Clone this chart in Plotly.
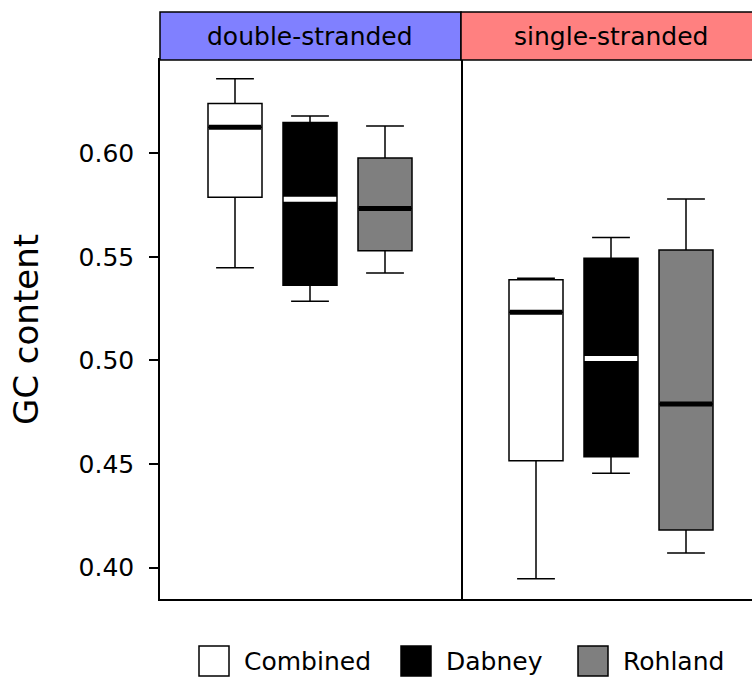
import plotly.graph_objects as go

# ---- data ----
panels = ["double-stranded", "single-stranded"]
groups = ["Combined", "Dabney", "Rohland"]
fills = ["#FFFFFF", "#000000", "#7F7F7F"]
median_colors = ["#000000", "#FFFFFF", "#000000"]

# per panel, per group
lower_whisker = [[0.5448, 0.5286, 0.5422], [0.3947, 0.4456, 0.4071]]
q1_vals       = [[0.5788, 0.5363, 0.5530], [0.4516, 0.4536, 0.4182]]
medians       = [[0.6125, 0.5778, 0.5733], [0.5233, 0.5009, 0.4790]]
q3_vals       = [[0.6240, 0.6148, 0.5977], [0.5389, 0.5493, 0.5533]]
upper_whisker = [[0.6360, 0.6180, 0.6132], [0.5397, 0.5593, 0.5779]]

y_ticks = [0.40, 0.45, 0.50, 0.55, 0.60]
y_title = "GC content"

W, H = 752, 680
ML, MR, MT, MB = 160, 0, 60, 81
plot_w = W - ML - MR
plot_h = H - MT - MB
split = 301 / plot_w
px_per_unit = 75.0
strip_h = 48 / plot_h
box_w = 0.72
FS = 25

fig = go.Figure()
axes = [("x", "y"), ("x2", "y2")]
for p in range(2):
    xa, ya = axes[p]
    for g in range(3):
        pos = g + 1
        fig.add_trace(go.Box(
            x=[pos], q1=[q1_vals[p][g]], median=[medians[p][g]], q3=[q3_vals[p][g]],
            lowerfence=[lower_whisker[p][g]], upperfence=[upper_whisker[p][g]],
            fillcolor=fills[g], line=dict(color="#000000", width=1.5),
            width=box_w, whiskerwidth=0.7, boxpoints=False, name=groups[g],
            showlegend=False, hoverinfo="skip", xaxis=xa, yaxis=ya,
        ))
        fig.add_trace(go.Scatter(
            x=[pos - box_w / 2 + 0.01, pos + box_w / 2 - 0.01],
            y=[medians[p][g], medians[p][g]], mode="lines",
            line=dict(color=median_colors[g], width=5),
            showlegend=False, hoverinfo="skip", xaxis=xa, yaxis=ya,
        ))

yr = [0.3849, 0.645]
axis_common = dict(showgrid=False, zeroline=False, linecolor="#000000", linewidth=1.5)
fig.update_layout(
    width=W, height=H,
    margin=dict(l=ML, r=MR, t=MT, b=MB),
    paper_bgcolor="white", plot_bgcolor="white",
    font=dict(family="DejaVu Sans", color="#000000", size=FS),
    showlegend=False,
    xaxis=dict(domain=[0, split], range=[0, 301 / px_per_unit], showticklabels=False,
               ticks="", mirror=True, showline=True, **axis_common),
    xaxis2=dict(domain=[split, 1], range=[0, (W - ML - 301) / px_per_unit], showticklabels=False,
                ticks="", mirror=True, showline=True, anchor="y2", **axis_common),
    yaxis=dict(range=yr, tickvals=y_ticks, ticktext=[f"{v:.2f}" for v in y_ticks],
               ticks="outside", ticklen=9, tickwidth=1.5, tickcolor="#000000",
               tickfont=dict(size=FS), ticklabelstandoff=10, mirror=True, showline=True,
               title=dict(text=y_title, font=dict(size=34), standoff=30), **axis_common),
    yaxis2=dict(range=yr, matches="y", showticklabels=False, ticks="", anchor="x2",
                mirror=False, showline=False, **axis_common),
)

# strips
strip_fills = ["#8080FF", "#FF8080"]
for p in range(2):
    xr = "x domain" if p == 0 else "x2 domain"
    x1 = 1 if p == 0 else 301 / (W - ML - 301)
    fig.add_shape(type="rect", xref=xr, yref="paper", x0=0, x1=x1, y0=1, y1=1 + strip_h,
                  fillcolor=strip_fills[p], line=dict(color="#000000", width=1.5), layer="above")
    fig.add_annotation(xref="x" if p == 0 else "x2", yref="paper", x=2, y=1 + strip_h / 2,
                       text=panels[p], showarrow=False, xanchor="center", yanchor="middle",
                       font=dict(size=FS))

# manual legend (large square keys)
leg_x = [199, 401, 578]
leg_y = 661
sq = 30
for g in range(3):
    x0 = (leg_x[g] - ML) / plot_w
    x1 = (leg_x[g] + sq - ML) / plot_w
    y0 = (H - MB - (leg_y + sq / 2)) / plot_h
    y1 = (H - MB - (leg_y - sq / 2)) / plot_h
    fig.add_shape(type="rect", xref="paper", yref="paper", x0=x0, x1=x1, y0=y0, y1=y1,
                  fillcolor=fills[g], line=dict(color="#000000", width=1.5))
    fig.add_annotation(xref="paper", yref="paper", x=(leg_x[g] + sq + 13 - ML) / plot_w,
                       y=(H - MB - leg_y) / plot_h, text=groups[g], showarrow=False,
                       xanchor="left", yanchor="middle", font=dict(size=FS))

fig.write_html(
    "out.html",
    config={"displayModeBar": False},
    post_script="document.body.style.margin='0px';document.body.style.overflow='hidden';",
)
